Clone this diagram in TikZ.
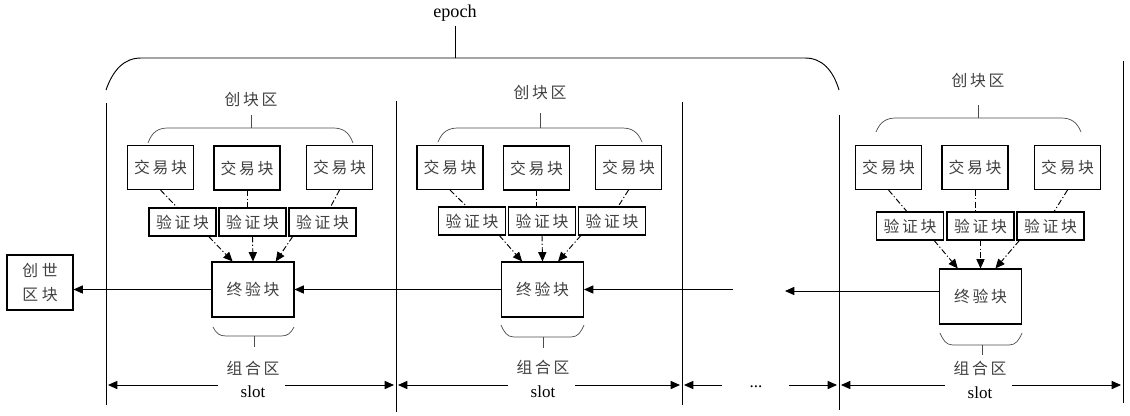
\documentclass[tikz,border=0pt]{standalone}
\usepackage{fontspec}
\setmainfont{Liberation Serif}
\newfontfamily\cjk{Noto Sans CJK SC}
\usetikzlibrary{arrows.meta}
\begin{document}
\begin{tikzpicture}[x=0.03cm,y=-0.03cm,
  box/.style={draw,line width=0.9pt,inner sep=0pt,font=\cjk\fontsize{13.5}{15}\selectfont,text=black!75},
  txb/.style={box,minimum width=1.98cm,minimum height=1.32cm},
  vb/.style={box,minimum width=2.01cm,minimum height=0.84cm},
  fb/.style={box,minimum width=2.46cm,minimum height=1.65cm},
  gb/.style={box,minimum width=1.98cm,minimum height=1.65cm,align=center,font=\cjk\fontsize{13.5}{20.5}\selectfont},
  lbl/.style={font=\cjk\fontsize{13.5}{15}\selectfont,text=black!75,inner sep=0pt},
  lat/.style={font=\fontsize{14.5}{16}\selectfont,inner sep=0pt},
  ln/.style={line width=0.8pt},
  dd/.style={line width=0.8pt,dash pattern=on 5pt off 2pt on 1pt off 2pt},
  arr/.style={-{Triangle[length=8pt,width=7pt]}},
  brc/.style={line width=0.6pt,black!70},
]
\useasboundingbox (0,0) rectangle (1130,415);

% epoch bracket
\node[lat,font=\fontsize{15.5}{17}\selectfont] (epoch) at (455,13) {epoch};
\coordinate (et) at (455,58);
\draw[ln,shorten <=4pt] (epoch.south) -- (et);
\draw[ln] (106,90) .. controls (113,70) and (124,58) .. (141,58) -- (805,58) .. controls (822,58) and (833,70) .. (839,90);

% slot boundary lines
\draw[ln] (106,103) -- (106,405);
\draw[ln] (396,101) -- (396,412);
\draw[ln] (682,102) -- (682,405);
\draw[ln] (839,115) -- (839,410);
\draw[ln] (1123,61) -- (1123,403);

% genesis block
\node[gb] (gen) at (40,282.5) {创\kern3pt 世\\区\kern3pt 块};

% ===== slot 1 =====
\node[lbl] (cb1) at (251,100) {创\,块\,区};
\draw[brc] (251,115) -- (251,128);
\draw[brc] (148,143) .. controls (152,132) and (158,128) .. (168,128) -- (333,128) .. controls (343,128) and (349,132) .. (353,143);
\node[txb] (t11) at (160.5,167.5) {交\,易\,块};
\node[txb] (t12) at (247,168) {交\,易\,块};
\node[txb] (t13) at (339.5,167.5) {交\,易\,块};
\node[vb] (v11) at (182.5,222) {验\,证\,块};
\node[vb] (v12) at (252.5,222) {验\,证\,块};
\node[vb] (v13) at (322.5,222) {验\,证\,块};
\node[fb] (f1) at (253,289.5) {终\,验\,块};
\draw[dd] (t11.south) -- (v11.110);
\draw[dd] (t12.south) -- (t12.south |- v12.north);
\draw[dd] (t13.south) -- (v13.62);
\draw[dd,arr] (v11.-29) -- (f1.126);
\draw[dd,arr] (v12.south) -- (f1.north);
\draw[dd,arr] (v13.206) -- (f1.51);
\draw[brc] (213,327) .. controls (216,333) and (219,336) .. (226,336) -- (281,336) .. controls (288,336) and (291,333) .. (294,327);
\draw[brc] (254,336) -- (254,347);
\node[lbl] (zh1) at (253,368) {组\,合\,区};
\node[lat] (s1) at (253,392) {slot};
\coordinate (s1a) at (218,385); \coordinate (s1b) at (108,385);
\coordinate (s1c) at (285,385); \coordinate (s1d) at (394,385);
\draw[ln,arr] (s1a) -- (s1b);
\draw[ln,arr] (s1c) -- (s1d);

% ===== slot 2 =====
\node[lbl] (cb2) at (540,93) {创\,块\,区};
\draw[brc] (540,113) -- (540,128);
\draw[brc] (438,142) .. controls (442,132) and (448,128) .. (458,128) -- (622,128) .. controls (632,128) and (638,132) .. (642,142);
\node[txb] (t21) at (450,167.5) {交\,易\,块};
\node[txb] (t22) at (536.5,168) {交\,易\,块};
\node[txb] (t23) at (628.5,167.5) {交\,易\,块};
\node[vb] (v21) at (472,221) {验\,证\,块};
\node[vb] (v22) at (542,221) {验\,证\,块};
\node[vb] (v23) at (612,221) {验\,证\,块};
\node[fb] (f2) at (542.5,289.5) {终\,验\,块};
\draw[dd] (t21.south) -- (v21.110);
\draw[dd] (t22.south) -- (t22.south |- v22.north);
\draw[dd] (t23.south) -- (v23.67);
\draw[dd,arr] (v21.-28) -- (f2.126);
\draw[dd,arr] (v22.south) -- (f2.north);
\draw[dd,arr] (v23.205) -- (f2.61);
\draw[brc] (501,325) .. controls (504,332) and (507,337) .. (514,337) -- (571,337) .. controls (578,337) and (581,332) .. (584,325);
\draw[brc] (543,337) -- (543,348);
\node[lbl] (zh2) at (543,367) {组\,合\,区};
\node[lat] (s2) at (543,392) {slot};
\coordinate (s2a) at (508,385); \coordinate (s2b) at (398,385);
\coordinate (s2c) at (575,385); \coordinate (s2d) at (680,385);
\draw[ln,arr] (s2a) -- (s2b);
\draw[ln,arr] (s2c) -- (s2d);

% ===== gap =====
\node[lat] (dots) at (756,387) {...};
\coordinate (g1a) at (722,385); \coordinate (g1b) at (684,385);
\coordinate (g1c) at (789,385); \coordinate (g1d) at (837,385);
\draw[ln,arr] (g1a) -- (g1b);
\draw[ln,arr] (g1c) -- (g1d);

% ===== slot 3 =====
\node[lbl] (cb3) at (978,81) {创\,块\,区};
\draw[brc] (978,105) -- (978,118);
\draw[brc] (876,132) .. controls (880,122) and (886,118) .. (896,118) -- (1061,118) .. controls (1071,118) and (1077,122) .. (1081,132);
\node[txb] (t31) at (888.5,167.5) {交\,易\,块};
\node[txb] (t32) at (975,167.5) {交\,易\,块};
\node[txb] (t33) at (1067.5,167.5) {交\,易\,块};
\node[vb] (v31) at (910,226) {验\,证\,块};
\node[vb] (v32) at (980.5,226) {验\,证\,块};
\node[vb] (v33) at (1050.5,226) {验\,证\,块};
\node[fb] (f3) at (980.5,296.5) {终\,验\,块};
\draw[dd] (t31.south) -- (v31.102);
\draw[dd] (t32.south) -- (t32.south |- v32.north);
\draw[dd] (t33.south) -- (v33.76);
\draw[dd,arr] (v31.-31) -- (f3.129);
\draw[dd,arr] (v32.south) -- (f3.north);
\draw[dd,arr] (v33.205) -- (f3.62);
\draw[brc] (940,333) .. controls (943,340) and (946,345) .. (953,345) -- (1009,345) .. controls (1016,345) and (1019,340) .. (1022,333);
\draw[brc] (982,345) -- (982,355);
\node[lbl] (zh3) at (980,368) {组\,合\,区};
\node[lat] (s3) at (980,393) {slot};
\coordinate (s3a) at (945,385); \coordinate (s3b) at (841,385);
\coordinate (s3c) at (1012,385); \coordinate (s3d) at (1121,385);
\draw[ln,arr] (s3a) -- (s3b);
\draw[ln,arr] (s3c) -- (s3d);

% chain arrows
\draw[ln,arr] (f1.west) -- (f1.west -| gen.east);
\draw[ln,arr] (f2.west) -- (f1.east);
\coordinate (c2) at (733,289.5);
\draw[ln,arr] (c2) -- (f2.east);
\coordinate (c3) at (785,291);
\draw[ln,arr] (c3 -| f3.west) -- (c3);
\end{tikzpicture}
\end{document}
